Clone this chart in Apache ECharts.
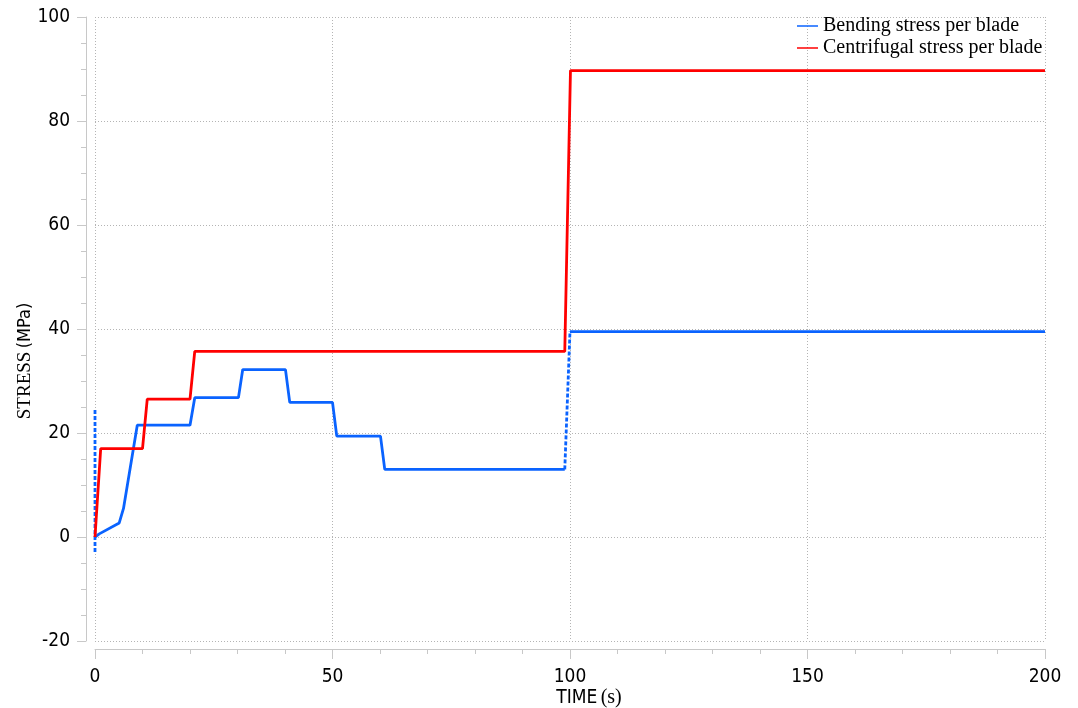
<!DOCTYPE html>
<html>
<head>
<meta charset="utf-8">
<script src="https://cdn.jsdelivr.net/npm/echarts@6/dist/echarts.min.js"></script>
<style>
  html, body { margin: 0; padding: 0; background: #fff; }
  #stressChart { width: 1078px; height: 708px; }
</style>
</head>
<body>
<div id="stressChart"></div>
<script>
// 横轴刻度
const timeTicks = [0, 50, 100, 150, 200];
const stressTicks = [-20, 0, 20, 40, 60, 80, 100];

// 弯曲应力 (time, stress)
const bendingRamp = [
  [0, 0], [0.9, 0.6], [5.1, 2.7], [6, 5.5], [8.9, 21.5], [20, 21.5],
  [21, 26.8], [30.2, 26.8], [31.1, 32.2], [40.1, 32.2], [41, 25.9],
  [50, 25.9], [50.9, 19.4], [60.1, 19.4], [61, 13], [98.9, 13]
];
const bendingSpike = [[0, 24.4], [0, -3.1]];
const bendingJump = [[98.9, 13], [100, 39.6]];
const bendingHold = [[100, 39.5], [200, 39.5]];

// 离心应力
const centrifugal = [
  [0, 0], [1.2, 17], [10, 17], [11, 26.5], [20, 26.5], [21, 35.7],
  [98.9, 35.7], [100.1, 89.7], [200, 89.7]
];

const blue = '#0a63ff';
const red = '#ff0000';
const axisGray = '#c8c8c8';
const gridGray = '#b4b4b4';
const tickFont = "'DejaVu Sans Condensed', 'DejaVu Sans', sans-serif";
const serifFont = "'Liberation Serif', 'DejaVu Serif', serif";

let stressChart = echarts.init(document.getElementById('stressChart'), null, { renderer: 'canvas' });

function lineSeries(name, data, color, dashed) {
  return {
    name: name,
    type: 'line',
    data: data,
    symbol: 'none',
    animation: false,
    lineStyle: { color: color, width: 2.8, type: dashed ? [4, 2] : 'solid' },
    itemStyle: { color: color }
  };
}

stressChart.setOption({
  backgroundColor: '#fff',
  grid: { left: 95, right: 33, top: 17, bottom: 67 },
  legend: {
    orient: 'vertical',
    left: 797,
    top: 16,
    padding: 0,
    icon: 'rect',
    data: ['Bending stress per blade', 'Centrifugal stress per blade'],
    itemWidth: 21,
    itemHeight: 1.5,
    itemGap: 2,
    textStyle: { fontFamily: serifFont, fontSize: 20, color: '#000', lineHeight: 20 }
  },
  xAxis: {
    type: 'value',
    min: timeTicks[0],
    max: timeTicks[timeTicks.length - 1],
    interval: 50,
    offset: 8,
    axisLine: { show: true, onZero: false, lineStyle: { color: axisGray } },
    axisTick: { show: true, length: 10, lineStyle: { color: axisGray } },
    minorTick: { show: true, splitNumber: 5, length: 5, lineStyle: { color: axisGray } },
    axisLabel: { fontFamily: tickFont, fontSize: 19, color: '#000', margin: 19 },
    splitLine: { show: true, lineStyle: { color: gridGray, type: [1, 2] } }
  },
  yAxis: {
    type: 'value',
    min: stressTicks[0],
    max: stressTicks[stressTicks.length - 1],
    interval: 20,
    offset: 9,
    axisLine: { show: true, onZero: false, lineStyle: { color: axisGray } },
    axisTick: { show: true, length: 9, lineStyle: { color: axisGray } },
    minorTick: { show: true, splitNumber: 4, length: 5, lineStyle: { color: axisGray } },
    axisLabel: { fontFamily: tickFont, fontSize: 19, color: '#000', margin: 16 },
    splitLine: { show: true, lineStyle: { color: gridGray, type: [1, 2] } }
  },
  graphic: [
    {
      type: 'text',
      x: 25,
      y: 361,
      rotation: Math.PI / 2,
      style: {
        text: '{s|STRESS} {m|(MPa)}',
        align: 'center',
        verticalAlign: 'middle',
        rich: {
          s: { fontFamily: serifFont, fontSize: 19, fill: '#000' },
          m: { fontFamily: tickFont, fontSize: 18, fill: '#000' }
        }
      }
    },
    {
      type: 'text',
      x: 589,
      y: 698,
      style: {
        text: '{t|TIME} {p|(s)}',
        align: 'center',
        verticalAlign: 'middle',
        rich: {
          t: { fontFamily: tickFont, fontSize: 19, fill: '#000' },
          p: { fontFamily: serifFont, fontSize: 20, fill: '#000' }
        }
      }
    }
  ],
  series: [
    lineSeries('Bending stress per blade', bendingRamp, blue, false),
    lineSeries('bendingSpike', bendingSpike, blue, true),
    lineSeries('bendingJump', bendingJump, blue, true),
    lineSeries('bendingHold', bendingHold, blue, false),
    lineSeries('Centrifugal stress per blade', centrifugal, red, false)
  ]
});
</script>
</body>
</html>
